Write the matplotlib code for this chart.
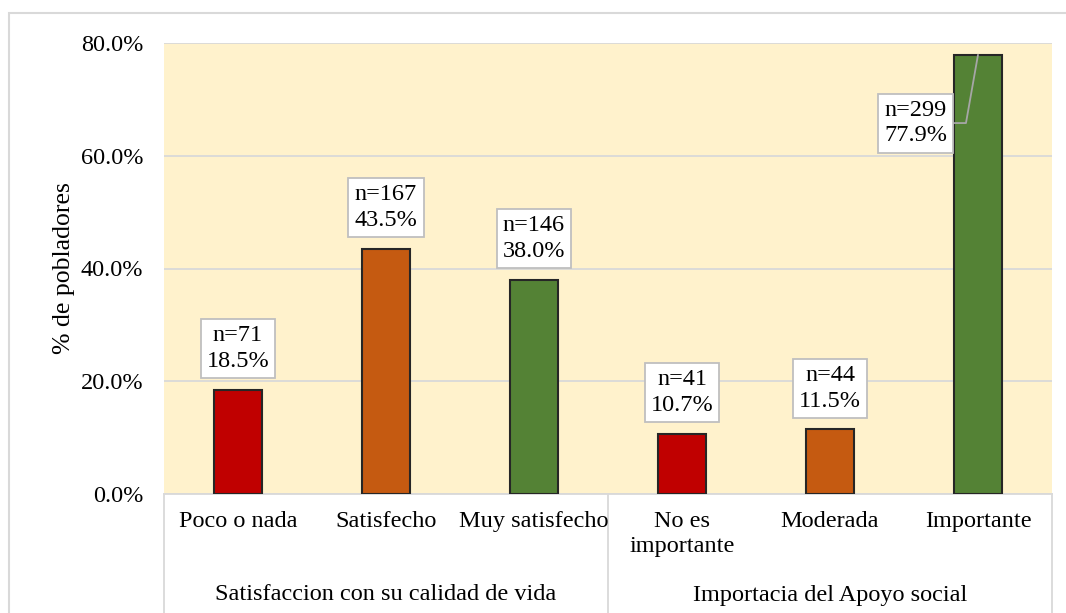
import matplotlib
matplotlib.use("Agg")
import matplotlib.pyplot as plt
from matplotlib.patches import Rectangle
from matplotlib.lines import Line2D
import matplotlib.transforms as mtransforms

plt.rcParams['font.family'] = ['Liberation Serif', 'DejaVu Serif']

categories = ["Poco o nada", "Satisfecho", "Muy satisfecho",
              "No es\nimportante", "Moderada", "Importante"]
groups = ["Satisfaccion con su calidad de vida", "Importacia del Apoyo social"]
counts = [71, 167, 146, 41, 44, 299]
percents = [18.5, 43.5, 38.0, 10.7, 11.5, 77.9]
colors = ["#C00000", "#C55A11", "#548235", "#C00000", "#C55A11", "#548235"]
yticks = [0, 20, 40, 60, 80]

FS = 17.5
W, H = 1066, 613
fig = plt.figure(figsize=(W / 100, H / 100), dpi=100)
ax = fig.add_axes([164 / W, (H - 494) / H, (1052 - 164) / W, (494 - 43) / H])

# outer frame
fig.patches.append(Rectangle((9 / W, -0.05), 1.2, (H - 13) / H + 0.05,
                             transform=fig.transFigure, fill=False,
                             edgecolor="#d9d9d9", linewidth=1.5, zorder=0))

ax.set_facecolor("#FFF2CC")
x = list(range(len(categories)))
ax.bar(x, percents, width=0.325, color=colors, edgecolor="#262626",
       linewidth=1.5, zorder=3)
ax.set_xlim(-0.5, 5.5)
ax.set_ylim(0, 80)
ax.set_yticks(yticks)
ax.set_yticklabels([f"{v:.1f}%" for v in yticks], fontsize=FS)
ax.yaxis.grid(True, color="#d9d9d9", linewidth=1.3, zorder=0)
ax.set_axisbelow(True)
ax.tick_params(axis='y', length=0, pad=15)
ax.tick_params(axis='x', length=0)
ax.set_xticks([])
for s in ["left", "right", "top"]:
    ax.spines[s].set_visible(False)
ax.spines["bottom"].set_color("#d9d9d9")
ax.spines["bottom"].set_linewidth(1.3)
ax.set_ylabel("% de pobladores", fontsize=18.5, labelpad=4)

# category labels
trans = mtransforms.blended_transform_factory(ax.transData, ax.transAxes)
ycat = (494 - 511) / 451
for xi, c in zip(x, categories):
    ax.text(xi, ycat, c, transform=trans, ha="center", va="top",
            fontsize=FS, linespacing=1.25)
# group labels
ygrp = (494 - 595) / 451
ax.text(1, ygrp, groups[0], transform=trans, ha="center", va="center", fontsize=FS)
ax.text(4, ygrp, groups[1], transform=trans, ha="center", va="center", fontsize=FS)

# separator lines
for xs in [-0.5, 2.5, 5.5]:
    ax.add_line(Line2D([xs, xs], [0, -0.3], transform=trans, color="#d9d9d9",
                       linewidth=1.3, clip_on=False))

# value labels
bbox = dict(boxstyle="square,pad=0.25", facecolor="white", edgecolor="#bfbfbf", linewidth=1.3)
for xi, n, p in zip(x, counts, percents):
    label = f"n={n}\n{p:.1f}%"
    if p > 70:
        ax.annotate(label, xy=(xi, p), xytext=(xi - 0.42, 65.8),
                    ha="center", va="center", fontsize=FS, linespacing=1.3,
                    bbox=bbox, zorder=5,
                    arrowprops=dict(arrowstyle="-", color="#a6a6a6", linewidth=1.3,
                                    shrinkA=0, shrinkB=0,
                                    connectionstyle="angle,angleA=0,angleB=80,rad=0"))
    else:
        ax.annotate(label, xy=(xi, p), xytext=(0, 29.5), textcoords="offset points",
                    ha="center", va="center", fontsize=FS, linespacing=1.3,
                    bbox=bbox, zorder=5)

fig.savefig("out.png", dpi=100)
